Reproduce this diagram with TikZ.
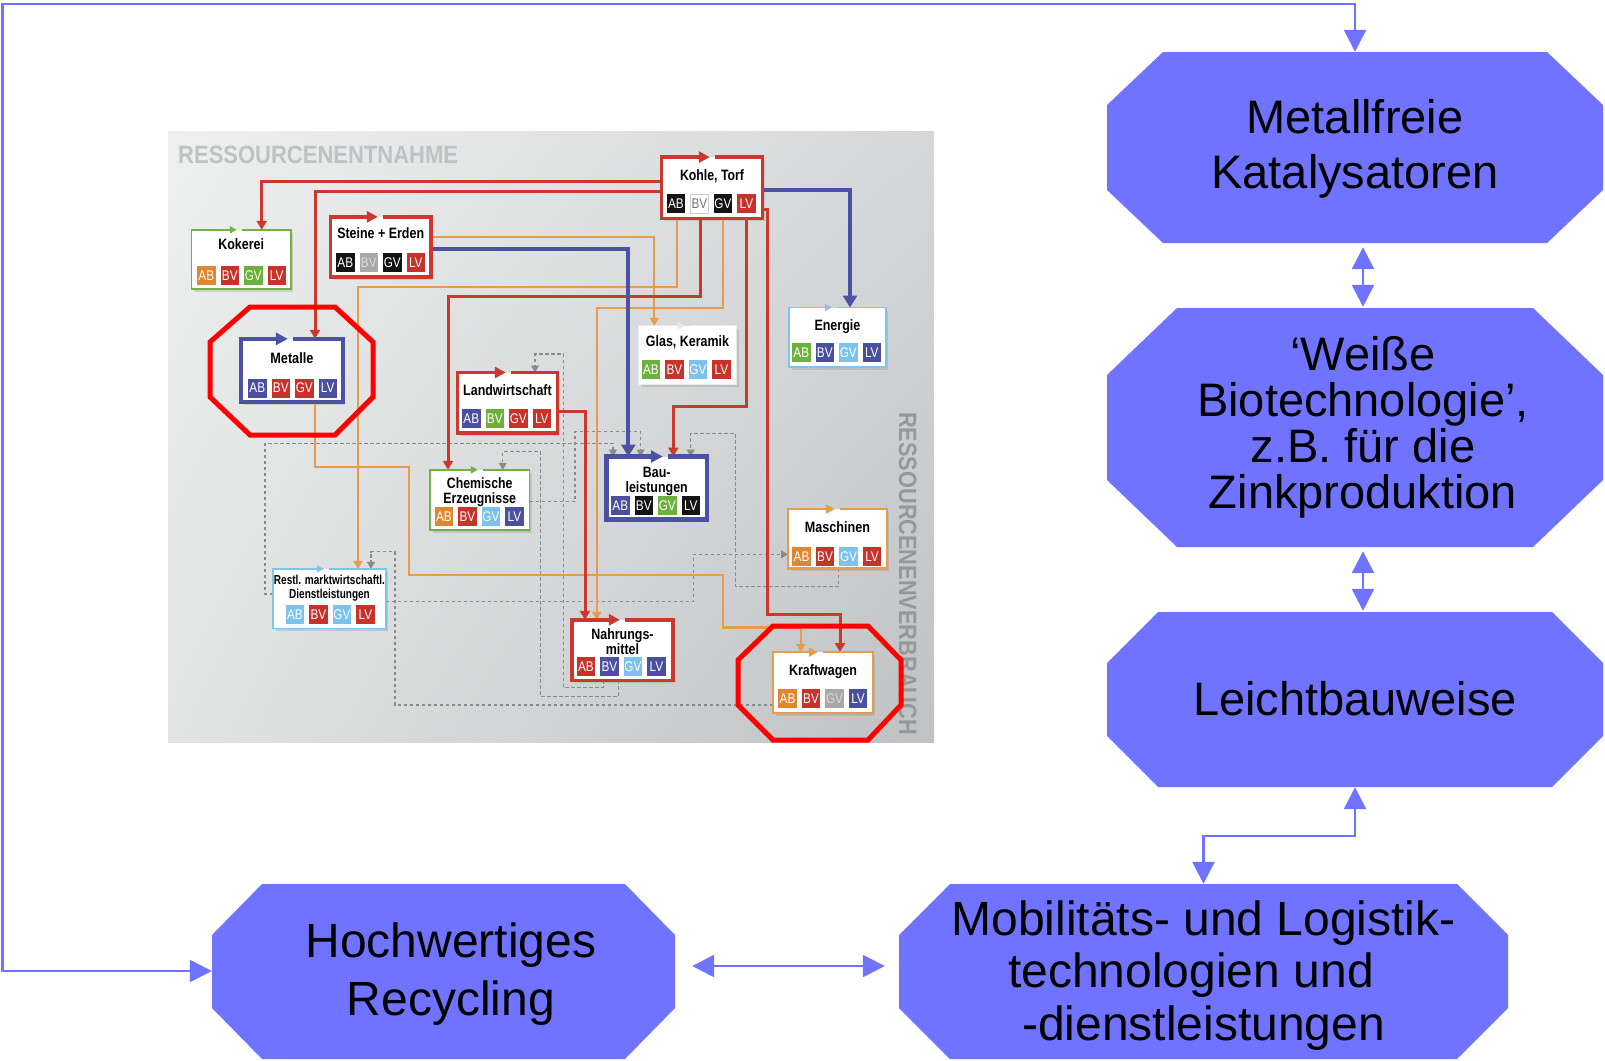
\documentclass[tikz,border=0pt]{standalone}
\usepackage{fontspec}
\setmainfont{Liberation Sans}
\usetikzlibrary{arrows.meta,shadows,shadings}

\definecolor{periwinkle}{RGB}{112,115,255}
\definecolor{flowred}{RGB}{202,56,46}
\definecolor{floworange}{RGB}{229,156,76}
\definecolor{flowblue}{RGB}{75,82,166}
\definecolor{flowgreen}{RGB}{112,178,68}
\definecolor{flowsky}{RGB}{128,196,232}
\definecolor{flowgrey}{RGB}{138,138,140}
\definecolor{tagorange}{RGB}{224,134,48}
\definecolor{tagred}{RGB}{200,50,42}
\definecolor{taggreen}{RGB}{108,176,62}
\definecolor{tagblue}{RGB}{74,79,158}
\definecolor{tagsky}{RGB}{124,194,234}
\definecolor{tagblack}{RGB}{20,20,20}
\definecolor{taggrey}{RGB}{168,168,168}
\definecolor{ringred}{RGB}{255,0,0}
\definecolor{panelA}{RGB}{238,239,239}
\definecolor{panelB}{RGB}{214,215,216}
\definecolor{panelC}{RGB}{226,227,227}
\definecolor{panelD}{RGB}{192,193,195}
\definecolor{headgrey}{RGB}{192,193,194}
\definecolor{sidegrey}{RGB}{150,151,154}

% horizontally condensed text
\newcommand\cond[2]{\scalebox{#1}[1]{#2}}
\newcommand\tagtxt[1]{\scalebox{0.84}[1]{#1}}
% row of the four AB/BV/GV/LV tags: prefix, left x, top y, four styles
\newcommand\tagrow[7]{%
  \node[tagbox,#4] (#1-ab) at (#2+9.25,#3+9.5) {\tagtxt{AB}};
  \node[tagbox,#5] (#1-bv) at (#2+32.75,#3+9.5) {\tagtxt{BV}};
  \node[tagbox,#6] (#1-gv) at (#2+56.25,#3+9.5) {\tagtxt{GV}};
  \node[tagbox,#7] (#1-lv) at (#2+79.75,#3+9.5) {\tagtxt{LV}};}
% box frame with the small arrow on its top edge:
% node, colour, line width, arrow tip offset, head length, head width
\newcommand\bframe[6]{%
  \draw[#2, line width=#3, line join=miter, -{Triangle[length=#5pt,width=#6pt]}]
    ([xshift=#4pt+5pt]#1.north west) -- (#1.north east) -- (#1.south east)
    -- (#1.south west) -- (#1.north west) -- ([xshift=#4pt]#1.north west);}
% filled octagon: x1, y1, x2, y2, corner cut x, corner cut y
\newcommand\octfill[6]{%
  \fill[periwinkle] (#1+#5,#2) -- (#3-#5,#2) -- (#3,#2+#6) -- (#3,#4-#6)
    -- (#3-#5,#4) -- (#1+#5,#4) -- (#1,#4-#6) -- (#1,#2+#6) -- cycle;}

\begin{document}
\begin{tikzpicture}[x=1pt,y=-1pt,
  % multi-line texts are placed by the baseline of their last line
  bigtext/.style={anchor=base, inner sep=0, align=center, text=black},
  ghost/.style={rectangle, inner sep=0, draw=none},
  conn/.style={periwinkle, line width=2.5,
    {Triangle[length=22pt,width=22pt]}-{Triangle[length=22pt,width=22pt]}},
  pnode/.style={rectangle, inner sep=0, fill=white,
    drop shadow={opacity=0.25, shadow xshift=2.5pt, shadow yshift=-3pt}},
  ptitle/.style={anchor=base, inner sep=0, align=center,
    font=\fontsize{15}{14.7}\selectfont\bfseries},
  tagbox/.style={rectangle, inner sep=0, minimum width=18.5, minimum height=19,
    text=white, font=\fontsize{14}{14}\selectfont},
  tO/.style={fill=tagorange}, tR/.style={fill=tagred}, tG/.style={fill=taggreen},
  tB/.style={fill=tagblue}, tS/.style={fill=tagsky}, tK/.style={fill=tagblack},
  tY/.style={fill=taggrey, text=white!85!black},
  tW/.style={fill=white, draw=black!20, line width=0.6, text=black!55},
  rline/.style={flowred, line width=3, -{Triangle[length=9pt,width=10pt]}},
  oline/.style={floworange, line width=2.2, -{Triangle[length=8pt,width=9pt]}},
  bline/.style={flowblue, line width=4.2, -{Triangle[length=12pt,width=14pt]}},
  gline/.style={flowgrey, line width=1.3, dash pattern=on 3.5pt off 2.5pt,
    -{Triangle[length=7pt,width=8pt]}},
]
\useasboundingbox (0,0) rectangle (1605,1060);

% ---------- solution blocks ----------
\octfill{1107}{52}{1603}{243}{56}{53}
\node[ghost, minimum width=496, minimum height=191] (b1) at (1355,147.5) {};
\node[bigtext, font=\fontsize{47}{55}\selectfont] (b1-text) at (1355,188)
  {Metallfreie\\Katalysatoren};

\octfill{1107}{308}{1603}{547}{70}{67}
\node[ghost, minimum width=496, minimum height=239] (b2) at (1355,427.5) {};
\node[bigtext, font=\fontsize{47}{46}\selectfont] (b2-text) at (1363,508)
  {‘Weiße\\Biotechnologie’,\\z.B. für die\\Zinkproduktion};

\octfill{1107}{612}{1603}{787}{51}{51}
\node[ghost, minimum width=496, minimum height=175] (b3) at (1355,699.5) {};
\node[bigtext, font=\fontsize{47}{55}\selectfont] (b3-text) at (1355,715)
  {Leichtbauweise};

\octfill{212}{884}{675}{1059}{50}{51}
\node[ghost, minimum width=463, minimum height=175] (b4) at (443.5,971.5) {};
\node[bigtext, font=\fontsize{48}{58}\selectfont] (b4-text) at (451,1015)
  {Hochwertiges\\Recycling};

\octfill{899}{884}{1508}{1059}{51}{51}
\node[ghost, minimum width=609, minimum height=175] (b5) at (1203.5,971.5) {};
\node[bigtext, font=\fontsize{48}{52.5}\selectfont] (b5-text) at (1203.5,1040)
  {Mobilitäts- und Logistik-\\technologien und\rule{25pt}{0pt}\\-dienstleistungen};

% ---------- links between the blocks ----------
\draw[conn] (b4.west |- 0,971) -- (2.5,971) -- (2.5,4) -| (b1.north);
\draw[conn, shorten <=4pt, shorten >=1pt] ([xshift=8pt]b1.south) -- ([xshift=8pt]b2.north);
\draw[conn, shorten <=4pt, shorten >=1pt] ([xshift=8pt]b2.south) -- ([xshift=8pt]b3.north);
\draw[conn] (b3.south) -- ++(0,49) -| (b5.north);
\draw[conn, shorten <=17pt, shorten >=14pt] (b4.east |- 0,966) -- (b5.west |- 0,966);

% ---------- resource flow panel ----------
\shade[upper left=panelA, upper right=panelB, lower left=panelC, lower right=panelD]
  (168,131) rectangle (934,742);
\node[anchor=base west, inner sep=0, text=headgrey,
  font=\fontsize{25}{25}\selectfont\bfseries] (entnahme) at (178,163)
  {\cond{0.88}{RESSOURCENENTNAHME}};
\node[anchor=base west, rotate=-90, inner sep=0, text=sidegrey,
  font=\fontsize{25}{25}\selectfont\bfseries] (verbrauch) at (899,412)
  {\cond{0.87}{RESSOURCENENVERBRAUCH}};

% sector boxes
\node[pnode, minimum width=99,    minimum height=59]   (kok) at (241.2,259.5) {};
\node[pnode, minimum width=100,   minimum height=59.7] (ste) at (380.7,246.9) {};
\node[pnode, minimum width=101.7, minimum height=62.7] (met) at (291.9,370.4) {};
\node[pnode, minimum width=99.6,  minimum height=60]   (lan) at (507.5,402.7) {};
\node[pnode, minimum width=99.3,  minimum height=60]   (che) at (479.7,500) {};
\node[pnode, minimum width=100,   minimum height=62.6] (bau) at (656.7,488) {};
\node[pnode, minimum width=97,    minimum height=58]   (gla) at (687.5,355) {};
\node[pnode, minimum width=100.6, minimum height=61]   (koh) at (712,187.8) {};
\node[pnode, minimum width=96.7,  minimum height=59]   (ene) at (837.4,337.2) {};
\node[pnode, minimum width=112.4, minimum height=59.3] (res) at (329.5,598.7) {};
\node[pnode, minimum width=98.4,  minimum height=59]   (mas) at (837.5,538.8) {};
\node[pnode, minimum width=100.4, minimum height=60]   (nah) at (622.5,650) {};
\node[pnode, minimum width=99.4,  minimum height=60.4] (kra) at (823,682.5) {};

% titles
\node[ptitle] (kok-t) at (241.2,249.3) {\cond{0.83}{Kokerei}};
\node[ptitle] (ste-t) at (380.7,238.3) {\cond{0.83}{Steine + Erden}};
\node[ptitle] (met-t) at (291.9,363) {\cond{0.85}{Metalle}};
\node[ptitle] (lan-t) at (507.5,395.3) {\cond{0.83}{Landwirtschaft}};
\node[ptitle] (che-t) at (479.7,503.3) {\cond{0.82}{Chemische}\\\cond{0.82}{Erzeugnisse}};
\node[ptitle] (bau-t) at (656.7,492) {\cond{0.83}{Bau-}\\\cond{0.83}{leistungen}};
\node[ptitle] (gla-t) at (687.5,346.3) {\cond{0.83}{Glas, Keramik}};
\node[ptitle] (koh-t) at (712,180.3) {\cond{0.82}{Kohle, Torf}};
\node[ptitle] (ene-t) at (837.4,330.3) {\cond{0.83}{Energie}};
\node[ptitle, font=\fontsize{13}{14}\selectfont\bfseries] (res-t) at (329.5,598.7)
  {\cond{0.77}{Restl. marktwirtschaftl.}\\\cond{0.77}{Dienstleistungen}};
\node[ptitle] (mas-t) at (837.5,532) {\cond{0.84}{Maschinen}};
\node[ptitle] (nah-t) at (622.5,654.6) {\cond{0.83}{Nahrungs-}\\\cond{0.83}{mittel}};
\node[ptitle] (kra-t) at (823,675.3) {\cond{0.83}{Kraftwagen}};

% tag rows
\tagrow{kok}{197}{266}{tO}{tR}{tG}{tR}
\tagrow{ste}{336}{253}{tK}{tY}{tK}{tR}
\tagrow{met}{248}{378.5}{tB}{tR}{tR}{tB}
\tagrow{lan}{462}{409}{tB}{tG}{tR}{tR}
\tagrow{che}{434.7}{506.7}{tO}{tR}{tS}{tB}
\tagrow{bau}{611}{495.7}{tB}{tK}{tG}{tK}
\tagrow{gla}{641.7}{360}{tG}{tR}{tS}{tR}
\tagrow{koh}{666.7}{194.3}{tK}{tW}{tK}{tR}
\tagrow{ene}{792}{343}{tG}{tB}{tS}{tB}
\tagrow{res}{285.7}{605}{tS}{tR}{tS}{tR}
\tagrow{mas}{792.3}{546.7}{tO}{tR}{tS}{tR}
\tagrow{nah}{576.7}{657.3}{tR}{tB}{tS}{tB}
\tagrow{kra}{778.3}{689}{tO}{tR}{tY}{tB}

% dashed return flows
\draw[gline] (res.west |- 0,594) -| (265,443.3) -| (bau.north -| 613,0);
\draw[gline] (che.east |- 0,501.7) -| (575,431.7) -| (bau.north -| 640.7,0);
\draw[gline] (mas.south -| 838.3,0) |- (735.7,586.7) |- (690.7,433.3) -- (bau.north -| 690.7,0);
\draw[gline] (res.east |- 0,601.7) -| (693.3,554.3) -- (mas.west |- 0,554.3);
\draw[gline] (kra.west |- 0,705) -| (395,551.7) -| (res.north -| 371,0);
\draw[gline] (nah.south -| 603.3,0) |- (563.3,687.7) |- (535,354) -- (lan.north -| 535,0);
\draw[gline] (nah.south -| 618.3,0) |- (540.7,696.7) |- (502.7,451.7) -- (che.north -| 502.7,0);

% orange flows
\draw[oline] (ste.east |- 0,236.7) -| (gla.north -| 654.3,0);
\draw[oline] (koh.south -| 676.7,0) |- (358,286.7) -- (res.north -| 358,0);
\draw[oline] (koh.south -| 723.3,0) |- (596.7,308.3) -- (nah.north -| 596.7,0);
\draw[oline] (met.south -| 315,0) |- (409,467.3) |- (723.3,575) |- (800.7,627.5)
  -- (kra.north -| 800.7,0);

% red flows
\draw[rline] (koh.west |- 0,181.7) -| (kok.north -| 261.7,0);
\draw[rline] (koh.west |- 0,191.7) -| (met.north -| 315,0);
\draw[rline] (koh.south -| 700.7,0) |- (448,296.7) -- (che.north -| 448,0);
\draw[rline] (koh.south -| 746.7,0) |- (673.3,406.7) -- (bau.north -| 673.3,0);
\draw[rline] (koh.east |- 0,209) -- (767.3,209) |- (840,614) -- (kra.north -| 840,0);
\draw[rline] (lan.east |- 0,411.7) -| (nah.north -| 585,0);

% blue flows
\draw[bline] (ste.east |- 0,249.3) -| (bau.north -| 628.3,0);
\draw[bline] (koh.east |- 0,190) -| (ene.north -| 850,0);

% box frames
\bframe{kok}{flowgreen}{1.8}{45.3}{7}{7}
\bframe{ste}{flowred}{3.4}{47.3}{11}{11}
\bframe{met}{flowblue}{4}{47}{12}{12}
\bframe{lan}{flowred}{3.4}{48.3}{11}{11}
\bframe{che}{flowgreen}{1.8}{48}{7}{7}
\bframe{bau}{flowblue}{4.2}{56.3}{12}{12}
\bframe{gla}{black!8}{1}{46}{7}{7}
\bframe{koh}{flowred}{3.4}{48.3}{11}{11}
\bframe{ene}{flowsky}{1.4}{43}{7}{7}
\bframe{res}{flowsky}{1.4}{50.7}{7}{7}
\bframe{mas}{floworange}{2.4}{46.7}{9}{9}
\bframe{nah}{flowred}{3.4}{47.7}{11}{11}
\bframe{kra}{floworange}{2.4}{44.7}{9}{9}

% highlight rings
\draw[ringred, line width=5, line join=miter]
  (250,307) -- (335,307) -- (373,342) -- (373,397) -- (335,435) -- (250,435)
  -- (210,397) -- (210,342) -- cycle;
\draw[ringred, line width=5, line join=miter]
  (773,626) -- (868,626) -- (901,660) -- (901,705) -- (868,740) -- (773,740)
  -- (738,705) -- (738,660) -- cycle;
\end{tikzpicture}
\end{document}
